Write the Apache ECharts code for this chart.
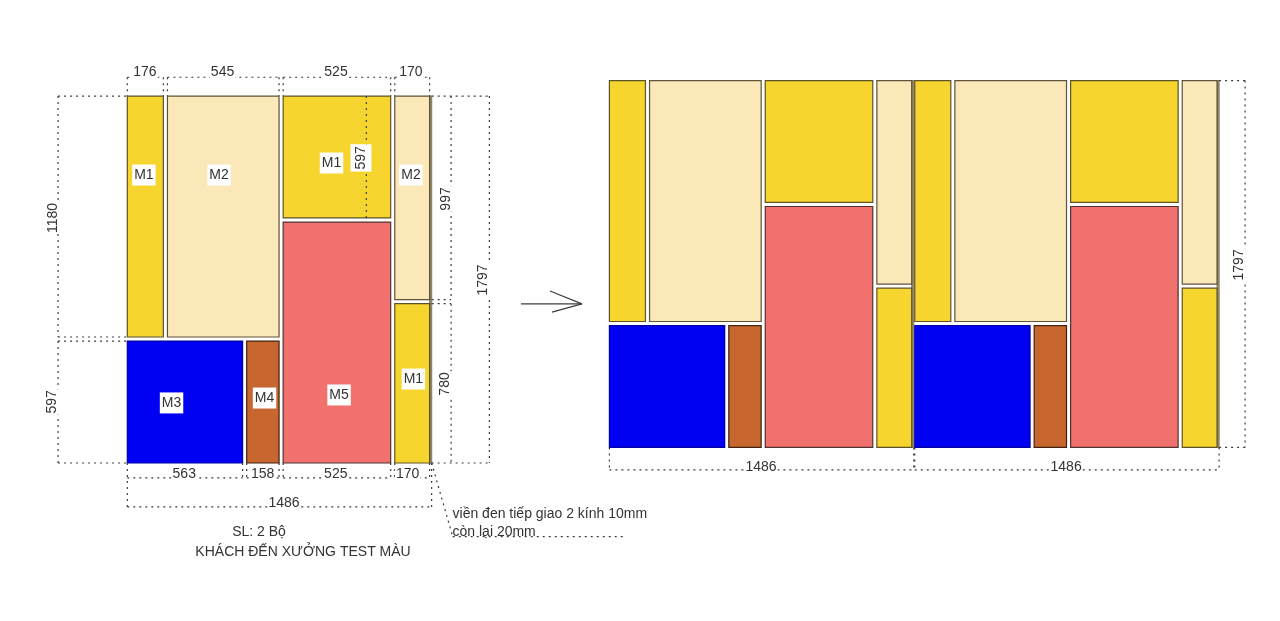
<!DOCTYPE html>
<html>
<head>
<meta charset="utf-8">
<style>html,body{margin:0;padding:0;background:#fff}#c{width:1280px;height:621px}</style>
<script src="https://cdn.jsdelivr.net/npm/echarts@6/dist/echarts.min.js"></script>
</head>
<body>
<div id="c"></div>
<script>
// All lengths are drawing millimetres, as dimensioned on the sheet.
// glass panes: material, x, y, width, height
var panes = [
  ['edge', 1476, 0, 10, 1797],
  ['M1', 0, 617, 176, 1180],
  ['M2', 196, 617, 545, 1180],
  ['M3', 0, 0, 563, 597],
  ['M4', 583, 0, 158, 597],
  ['M1', 761, 1200, 525, 597],
  ['M5', 761, 0, 525, 1180],
  ['M2', 1306, 800, 170, 997],
  ['M1', 1306, 0, 170, 780]
];
// where each drawn copy of the door sits on the sheet: x, y
var copies = [[0, 0], [2354, 76], [3845, 76]];
var paneLabels = [
  ['M1', 81, 1415], ['M2', 448, 1415], ['M1', 997, 1474], ['597', 1141, 1499, 90],
  ['M2', 1385, 1415], ['M3', 216, 299], ['M4', 670, 323], ['M5', 1034, 338], ['M1', 1397, 416]
];
var dimLabels = [
  ['176', 86, 1920], ['545', 465, 1920], ['525', 1019, 1920], ['170', 1385, 1920],
  ['1180', -364, 1205, 90], ['597', -365, 304, 90], ['997', 1555, 1298, 90],
  ['1797', 1738, 901, 90], ['780', 1551, 392, 90],
  ['563', 278, -49], ['158', 661, -49], ['525', 1018, -49], ['170', 1369, -49], ['1486', 765, -191],
  ['1486', 3094, -15], ['1486', 4584, -15], ['1797', 5428, 975, 90]
];
var noteLabels = [
  ['SL: 2 Bộ', 643, -333, 0, 'center'],
  ['KHÁCH ĐẾN XƯỞNG TEST MÀU', 858, -431, 0, 'center'],
  ['viền đen tiếp giao 2 kính 10mm', 1588, -245, 0, 'left'],
  ['còn lại 20mm', 1588, -333, 0, 'left']
];
// dotted dimension lines: x1, y1, x2, y2
var dimLines = [
  [0,1889,176,1889],[196,1889,741,1889],[761,1889,1286,1889],[1306,1889,1476,1889],
  [0,1889,0,1797],[176,1889,176,1797],[196,1889,196,1797],[741,1889,741,1797],
  [761,1889,761,1797],[1286,1889,1286,1797],[1306,1889,1306,1797],[1476,1889,1476,1797],
  [-338,1797,0,1797],[-338,1797,-338,617],[-338,617,0,617],
  [-338,597,0,597],[-338,597,-338,0],[-338,0,0,0],
  [1486,1797,1768,1797],[1581,1797,1581,800],[1486,800,1581,800],
  [1486,780,1581,780],[1581,780,1581,0],[1768,1797,1768,0],[1486,0,1768,0],
  [1167,1797,1167,1200],
  [0,0,0,-215],[0,-73,563,-73],[563,0,563,-73],[583,0,583,-73],[583,-73,741,-73],
  [741,0,741,-73],[761,0,761,-73],[761,-73,1286,-73],[1286,0,1286,-73],[1306,0,1306,-73],
  [1306,-73,1476,-73],[1476,0,1476,-73],[0,-215,1486,-215],[1486,0,1486,-215],
  [1486,0,1589,-361],[1589,-361,2438,-361],
  [2354,76,2354,-34],[2354,-34,3840,-34],[3840,76,3840,-34],
  [3845,76,3845,-34],[3845,-34,5331,-34],[5331,76,5331,-34],
  [5331,1873,5458,1873],[5458,1873,5458,76],[5331,76,5458,76]
];
var arrowLines = [[1922,779,2220,779],[2064,842,2220,779],[2074,739,2220,779]];

var fills = {M1:'#F6D62E', M2:'#FAE8B8', M3:'#0000F2', M4:'#C8662F', M5:'#F0716D', edge:'#8E8468'};
var strokes = {M1:'#5E5228', M2:'#5E5238', M3:'#0000A0', M4:'#3E2410', M5:'#4E3432', edge:'#8E8468'};
var FONT = '"Liberation Sans", Arial, sans-serif';
var TEXT = '#333333';

var paneData = [];
copies.forEach(function (c) {
  panes.forEach(function (p) { paneData.push([p[1] + c[0], p[2] + c[1], p[3], p[4], p[0]]); });
});

function lineSeries(rows, style) {
  return {
    type: 'custom', silent: true, clip: false,
    data: rows,
    renderItem: function (params, api) {
      var a = api.coord([api.value(0), api.value(1)]);
      var b = api.coord([api.value(2), api.value(3)]);
      return { type: 'line', shape: {x1: a[0], y1: a[1], x2: b[0], y2: b[1]}, style: style };
    }
  };
}
function textSeries(rows, opts) {
  return {
    type: 'custom', silent: true, clip: false,
    data: rows.map(function (r) { return [r[1], r[2]]; }),
    renderItem: function (params, api) {
      var r = rows[params.dataIndex];
      var p = api.coord([api.value(0), api.value(1)]);
      return {
        type: 'text', x: p[0], y: p[1] + 1, rotation: (r[3] || 0) * Math.PI / 180,
        style: {
          text: r[0], fill: TEXT, font: opts.size + 'px ' + FONT,
          align: r[4] || 'center', verticalAlign: 'middle',
          backgroundColor: opts.bg, padding: opts.pad
        }
      };
    }
  };
}

var chart = echarts.init(document.getElementById('c'), null, {renderer: 'canvas'});
chart.setOption({
  animation: false,
  backgroundColor: '#ffffff',
  grid: {left: 0, right: 0, top: 0, bottom: 0},
  xAxis: {type: 'value', min: -621.6, max: 5628.4, show: false},
  yAxis: {type: 'value', min: -773.8, max: 2267.4, show: false},
  series: [
    {
      type: 'custom', silent: true, clip: false,
      data: paneData,
      renderItem: function (params, api) {
        var d = paneData[params.dataIndex];
        var a = api.coord([d[0], d[1] + d[3]]);
        var b = api.coord([d[0] + d[2], d[1]]);
        return {
          type: 'rect',
          shape: {x: a[0], y: a[1], width: b[0] - a[0], height: b[1] - a[1]},
          style: {fill: fills[d[4]], stroke: strokes[d[4]], lineWidth: 1.2}
        };
      }
    },
    lineSeries(dimLines, {stroke: '#3c3c3c', lineWidth: 1.2, lineDash: [2, 4], fill: null}),
    lineSeries(arrowLines, {stroke: '#3c3c3c', lineWidth: 1.2, fill: null}),
    textSeries(paneLabels, {size: 14, bg: '#ffffff', pad: [4, 2, 3, 2]}),
    textSeries(dimLabels, {size: 14, bg: '#ffffff', pad: [0, 1, 0, 1]}),
    textSeries(noteLabels, {size: 14})
  ]
});
</script>
</body>
</html>
